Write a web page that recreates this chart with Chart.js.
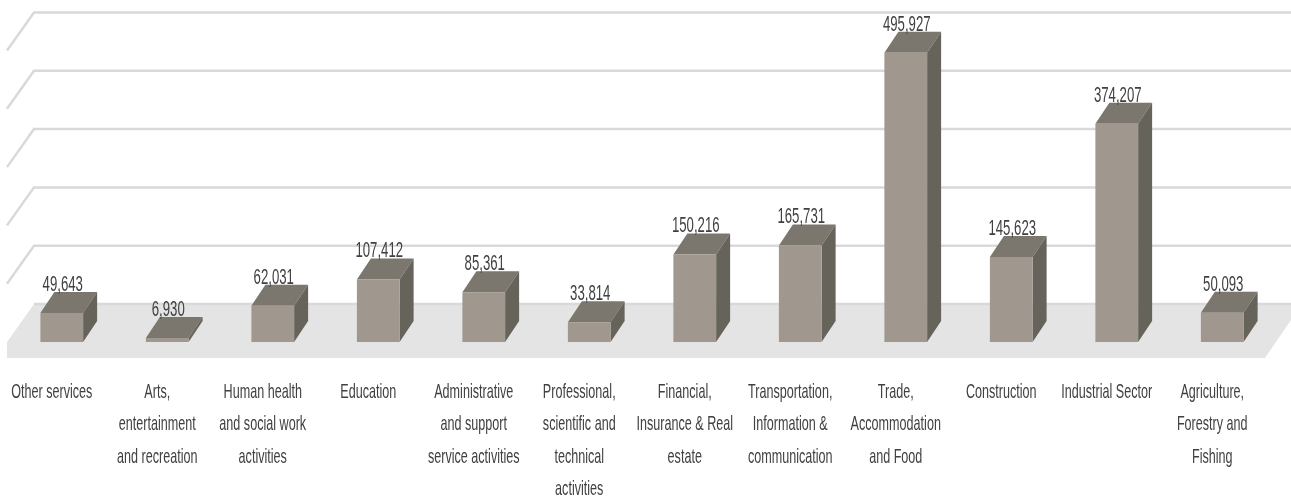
<!DOCTYPE html>
<html>
<head>
<meta charset="utf-8">
<style>
	html, body { margin: 0; padding: 0; background: #fff; }
	canvas { display: block; }
</style>
<script src="https://cdn.jsdelivr.net/npm/chart.js@4/dist/chart.umd.min.js"></script>
</head>
<body>
<canvas id="sector-chart" width="1291" height="498"></canvas>
<script>
const categories = [
	["Other services"],
	["Arts,", "entertainment", "and recreation"],
	["Human health", "and social work", "activities"],
	["Education"],
	["Administrative", "and support", "service activities"],
	["Professional,", "scientific and", "technical", "activities"],
	["Financial,", "Insurance & Real", "estate"],
	["Transportation,", "Information &", "communication"],
	["Trade,", "Accommodation", "and Food"],
	["Construction"],
	["Industrial Sector"],
	["Agriculture,", "Forestry and", "Fishing"]
];

const workers = [49643, 6930, 62031, 107412, 85361, 33814, 150216, 165731, 495927, 145623, 374207, 50093];

const axisMax = 500000;
const axisStep = 100000;

// fake 3d offsets
const wallDepthX = 27;
const wallDepthY = 38;
const barDepthX = 14;
const barDepthY = 21;
const floorLeft = 7;
const floorRight = 1265;
const floorThickness = 16;

// the original text is tall and squeezed, canvas has no font-stretch that works here
const fontName = "'Liberation Sans', sans-serif";
const textSqueeze = 0.6;

function fillPoly(ctx, color, points)
{
	ctx.fillStyle = color;
	ctx.beginPath();
	points.forEach(([x, y], i) => i ? ctx.lineTo(x, y) : ctx.moveTo(x, y));
	ctx.closePath();
	ctx.fill();
}

function squeezedText(ctx, text, x, y)
{
	ctx.save();
	ctx.translate(x, y);
	ctx.scale(textSqueeze, 1);
	ctx.fillText(text, 0, 0);
	ctx.restore();
}

const box3d =
{
	id: "box3d",
	beforeDatasetsDraw(chart)
	{
		const { ctx, scales: { y } } = chart;
		const base = y.getPixelForValue(0);
		const w = chart.width;

		ctx.save();
		ctx.strokeStyle = "#d9d9d9";
		ctx.lineWidth = 2.5;

		for(const tick of y.ticks)
		{
			if(tick.value === 0) continue;

			const py = y.getPixelForValue(tick.value);

			ctx.beginPath();
			ctx.moveTo(floorLeft, py);
			ctx.lineTo(floorLeft + wallDepthX, py - wallDepthY);
			ctx.lineTo(w, py - wallDepthY);
			ctx.stroke();
		}

		fillPoly(ctx, "#e4e4e4", [
			[floorLeft + wallDepthX, base - wallDepthY],
			[w, base - wallDepthY],
			[w, base - wallDepthY + 16],
			[floorRight, base + floorThickness],
			[floorLeft, base + floorThickness],
			[floorLeft, base]
		]);

		ctx.beginPath();
		ctx.moveTo(floorLeft + wallDepthX, base - wallDepthY);
		ctx.lineTo(w, base - wallDepthY);
		ctx.stroke();

		for(const bar of chart.getDatasetMeta(0).data)
		{
			const right = bar.x + bar.width / 2;
			const left = bar.x - bar.width / 2;

			fillPoly(ctx, "#7b766e", [
				[left, bar.y],
				[left + barDepthX, bar.y - barDepthY],
				[right + barDepthX, bar.y - barDepthY],
				[right, bar.y]
			]);

			fillPoly(ctx, "#66635a", [
				[right, bar.y],
				[right + barDepthX, bar.y - barDepthY],
				[right + barDepthX, bar.base - barDepthY],
				[right, bar.base]
			]);
		}

		ctx.restore();
	},
	afterDatasetsDraw(chart)
	{
		const { ctx, scales: { x, y } } = chart;
		const base = y.getPixelForValue(0);

		ctx.save();
		ctx.fillStyle = "#404040";
		ctx.textAlign = "center";
		ctx.textBaseline = "middle";

		ctx.font = `22px ${fontName}`;
		chart.getDatasetMeta(0).data.forEach((bar, i) =>
		{
			squeezedText(ctx, workers[i].toLocaleString("en-US"), bar.x + 1, bar.y - 28);
		});

		ctx.font = `21px ${fontName}`;
		categories.forEach((lines, i) =>
		{
			lines.forEach((line, n) =>
			{
				squeezedText(ctx, line, x.getPixelForTick(i) - 10, base + 50 + n * 32.4);
			});
		});

		ctx.restore();
	}
};

new Chart(document.getElementById("sector-chart"),
{
	type: "bar",
	data:
	{
		labels: categories,
		datasets: [ { data: workers, backgroundColor: "#a0978f", barPercentage: 0.405, categoryPercentage: 1 } ]
	},
	options:
	{
		responsive: false,
		animation: false,
		layout: { padding: { left: 9, right: 16, top: 50.5, bottom: 0 } },
		plugins: { legend: { display: false }, tooltip: { enabled: false } },
		scales:
		{
			x:
			{
				afterFit: scale => { scale.height = 156; },
				grid: { display: false },
				border: { display: false },
				ticks: { display: false, autoSkip: false }
			},
			y:
			{
				display: false,
				min: 0,
				max: axisMax,
				ticks: { stepSize: axisStep }
			}
		}
	},
	plugins: [ box3d ]
});
</script>
</body>
</html>
